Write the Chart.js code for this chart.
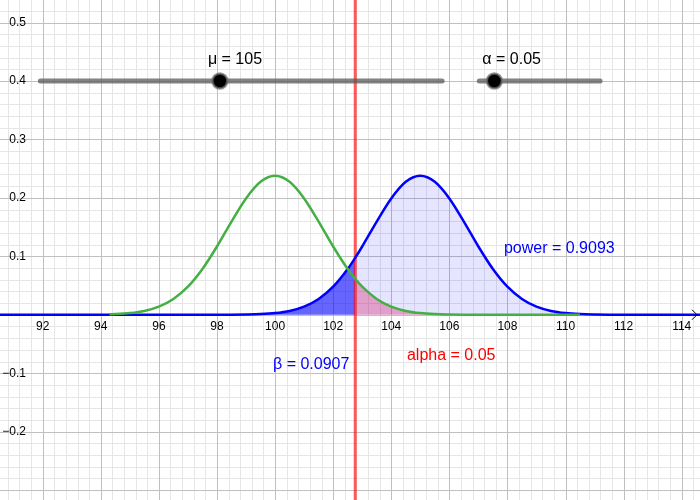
<!DOCTYPE html>
<html>
<head>
<meta charset="utf-8">
<script src="https://cdn.jsdelivr.net/npm/chart.js@4.4.0/dist/chart.umd.min.js"></script>
<style>
  body { margin: 0; background: #fff; }
  #wrap { width: 700px; height: 500px; }
</style>
</head>
<body>
<div id="wrap"><canvas id="graf" width="700" height="500"></canvas></div>
<script>
// view window (graph units)
const xMin = 90.53, xMax = 114.63;
const yMin = -0.317, yMax = 0.5386;

// tick labels
const xTickLabels = [92, 94, 96, 98, 100, 102, 104, 106, 108, 110, 112, 114];
const yTickLabels = [0.5, 0.4, 0.3, 0.2, 0.1, -0.1, -0.2];

// critical value (red line)
const crit = 102.76;

// H1 curve, mu = 105 (blue)
const blueX = [90, 90.5, 91, 91.5, 92, 92.5, 93, 93.5, 94, 94.5, 95, 95.5, 96, 96.5, 97, 97.5,
  98, 98.5, 99, 99.5, 100, 100.5, 101, 101.5, 102, 102.5, 102.76, 103, 103.5, 104, 104.5,
  105, 105.5, 106, 106.5, 107, 107.5, 108, 108.5, 109, 109.5, 110, 110.5, 111, 111.5,
  112, 112.5, 113, 113.5, 114, 114.5, 115];
const blueY = [0, 0, 0, 0, 0, 0, 0, 0, 0, 0, 0, 0, 0, 0, 0, 0,
  0, 0.0001, 0.0004, 0.0011, 0.0028, 0.0065, 0.0138, 0.0270, 0.0480, 0.0783, 0.0975, 0.1168, 0.1595, 0.1991, 0.2275,
  0.2379, 0.2275, 0.1991, 0.1595, 0.1168, 0.0783, 0.0480, 0.0270, 0.0138, 0.0065, 0.0028, 0.0011, 0.0004, 0.0001,
  0, 0, 0, 0, 0, 0, 0];

// H0 curve, mu = 100 (green)
const greenX = [94.3, 94.5, 95, 95.5, 96, 96.5, 97, 97.5, 98, 98.5, 99, 99.5, 100, 100.5, 101, 101.5,
  102, 102.5, 102.76, 103, 103.5, 104, 104.5, 105, 105.5, 106, 106.5, 107, 107.5, 108, 108.5,
  109, 109.5, 110, 110.5];
const greenY = [0.0008, 0.0011, 0.0028, 0.0065, 0.0138, 0.0270, 0.0480, 0.0783, 0.1168, 0.1595, 0.1991, 0.2275, 0.2379, 0.2275, 0.1991, 0.1595,
  0.1168, 0.0783, 0.0614, 0.0480, 0.0270, 0.0138, 0.0065, 0.0028, 0.0011, 0.0004, 0.0001, 0, 0, 0, 0,
  0, 0, 0, 0];

// sliders (graph units)
const sliderY = 0.4;
const muSliderX = [91.92, 105.75];
const muKnob = 98.10;
const alphaSliderX = [107.03, 111.19];
const alphaKnob = 107.55;
const muLabel = 'μ = 105';
const alphaLabel = 'α = 0.05';

// text labels
const noteText = ['power = 0.9093', 'β = 0.0907', 'alpha = 0.05'];
const noteX = [107.88, 99.93, 104.54];
const noteY = [0.1125, -0.0855, -0.0705];
const noteColor = ['#0000ff', '#0000ff', '#ff0000'];

const pts = (xs, ys) => xs.map((x, i) => ({ x: x, y: ys[i] }));
const bluePts = pts(blueX, blueY);
const greenPts = pts(greenX, greenY);

const FONT = '"Liberation Sans", Arial, sans-serif';

function isMult(v, step) {
    const q = v / step;
    return Math.abs(q - Math.round(q)) < 1e-6;
}

// GeoGebra style grid: minor 0.4 / 0.02, major 2 / 0.1
const gridPlugin = {
    id: 'grid',
    beforeDatasetsDraw(chart) {
        const { ctx, chartArea: a } = chart;
        const x = chart.scales.x, y = chart.scales.y;
        ctx.save();
        ctx.lineWidth = 1;
        const passes = [false, true];
        passes.forEach(major => {
            ctx.strokeStyle = major ? '#c0c0c0' : '#e6e6e6';
            ctx.beginPath();
            for (let i = Math.ceil(xMin / 0.4); i * 0.4 <= xMax; i++) {
                const v = i * 0.4;
                if (isMult(v, 2) !== major) continue;
                const px = Math.round(x.getPixelForValue(v)) + 0.5;
                ctx.moveTo(px, a.top);
                ctx.lineTo(px, a.bottom);
            }
            for (let i = Math.ceil(yMin / 0.02); i * 0.02 <= yMax; i++) {
                const v = i * 0.02;
                if (isMult(v, 0.1) !== major) continue;
                const py = Math.round(y.getPixelForValue(v)) + 0.5;
                ctx.moveTo(a.left, py);
                ctx.lineTo(a.right, py);
            }
            ctx.stroke();
        });
        ctx.restore();
    }
};

const labelsPlugin = {
    id: 'labels',
    afterDatasetsDraw(chart) {
        const { ctx } = chart;
        const x = chart.scales.x, y = chart.scales.y;
        const y0 = y.getPixelForValue(0);
        ctx.save();

        // x axis arrow
        ctx.strokeStyle = '#000';
        ctx.lineWidth = 1;
        ctx.beginPath();
        ctx.moveTo(692, y0 - 5);
        ctx.lineTo(697, y0);
        ctx.lineTo(692, y0 + 5);
        ctx.stroke();

        ctx.fillStyle = '#000';
        ctx.font = '12px ' + FONT;
        ctx.textBaseline = 'middle';
        ctx.textAlign = 'center';
        xTickLabels.forEach(v => ctx.fillText(String(v), x.getPixelForValue(v), y0 + 12));
        ctx.textAlign = 'right';
        yTickLabels.forEach(v => {
            const s = v < 0 ? '\u2212' + Math.abs(v) : String(v);
            ctx.fillText(s, 26, y.getPixelForValue(v));
        });

        // slider captions
        ctx.font = '16px ' + FONT;
        ctx.textAlign = 'left';
        ctx.fillText(muLabel, x.getPixelForValue(muKnob) - 12, y.getPixelForValue(sliderY) - 21);
        ctx.fillText(alphaLabel, x.getPixelForValue(alphaKnob) - 12, y.getPixelForValue(sliderY) - 21);

        noteText.forEach((t, i) => {
            ctx.fillStyle = noteColor[i];
            ctx.fillText(t, x.getPixelForValue(noteX[i]), y.getPixelForValue(noteY[i]));
        });
        ctx.restore();
    }
};

const curve = {
    showLine: true,
    pointRadius: 0,
    cubicInterpolationMode: 'monotone',
    borderWidth: 0,
    fill: 'origin'
};

new Chart(document.getElementById('graf'), {
    type: 'scatter',
    data: {
        datasets: [
            // fills
            Object.assign({}, curve, { data: bluePts.filter(p => p.x >= crit), backgroundColor: 'rgba(0,0,255,0.1)', order: 20 }),
            Object.assign({}, curve, { data: greenPts.filter(p => p.x >= crit), backgroundColor: 'rgba(215,0,85,0.3)', order: 19 }),
            Object.assign({}, curve, { data: bluePts.filter(p => p.x <= crit), backgroundColor: 'rgba(0,0,255,0.6)', order: 18 }),
            // red critical line
            { data: [{ x: crit, y: yMin - 1 }, { x: crit, y: yMax + 1 }], showLine: true, pointRadius: 0,
              borderColor: 'rgba(255,0,0,0.65)', borderWidth: 3, order: 15 },
            // curves
            { data: bluePts, showLine: true, pointRadius: 0, cubicInterpolationMode: 'monotone',
              borderColor: '#0000ff', borderWidth: 2.5, fill: false, order: 12 },
            { data: greenPts, showLine: true, pointRadius: 0, cubicInterpolationMode: 'monotone',
              borderColor: '#44b044', borderWidth: 2.5, fill: false, order: 11 },
            // sliders
            { data: muSliderX.map(v => ({ x: v, y: sliderY })), showLine: true, pointRadius: 0,
              borderColor: 'rgba(90,90,90,0.75)', borderWidth: 5, borderCapStyle: 'round', order: 5 },
            { data: alphaSliderX.map(v => ({ x: v, y: sliderY })), showLine: true, pointRadius: 0,
              borderColor: 'rgba(90,90,90,0.75)', borderWidth: 5, borderCapStyle: 'round', order: 5 },
            { data: [{ x: muKnob, y: sliderY }, { x: alphaKnob, y: sliderY }], showLine: false,
              pointRadius: 7.5, backgroundColor: '#000', borderColor: 'rgba(110,110,110,0.7)', borderWidth: 2.5, order: 1 }
        ]
    },
    options: {
        responsive: false,
        animation: false,
        layout: { padding: 0, autoPadding: false },
        plugins: { legend: { display: false }, tooltip: { enabled: false } },
        scales: {
            x: { type: 'linear', min: xMin, max: xMax, display: false },
            y: { type: 'linear', min: yMin, max: yMax, display: false }
        }
    },
    plugins: [gridPlugin, labelsPlugin]
});
</script>
</body>
</html>
